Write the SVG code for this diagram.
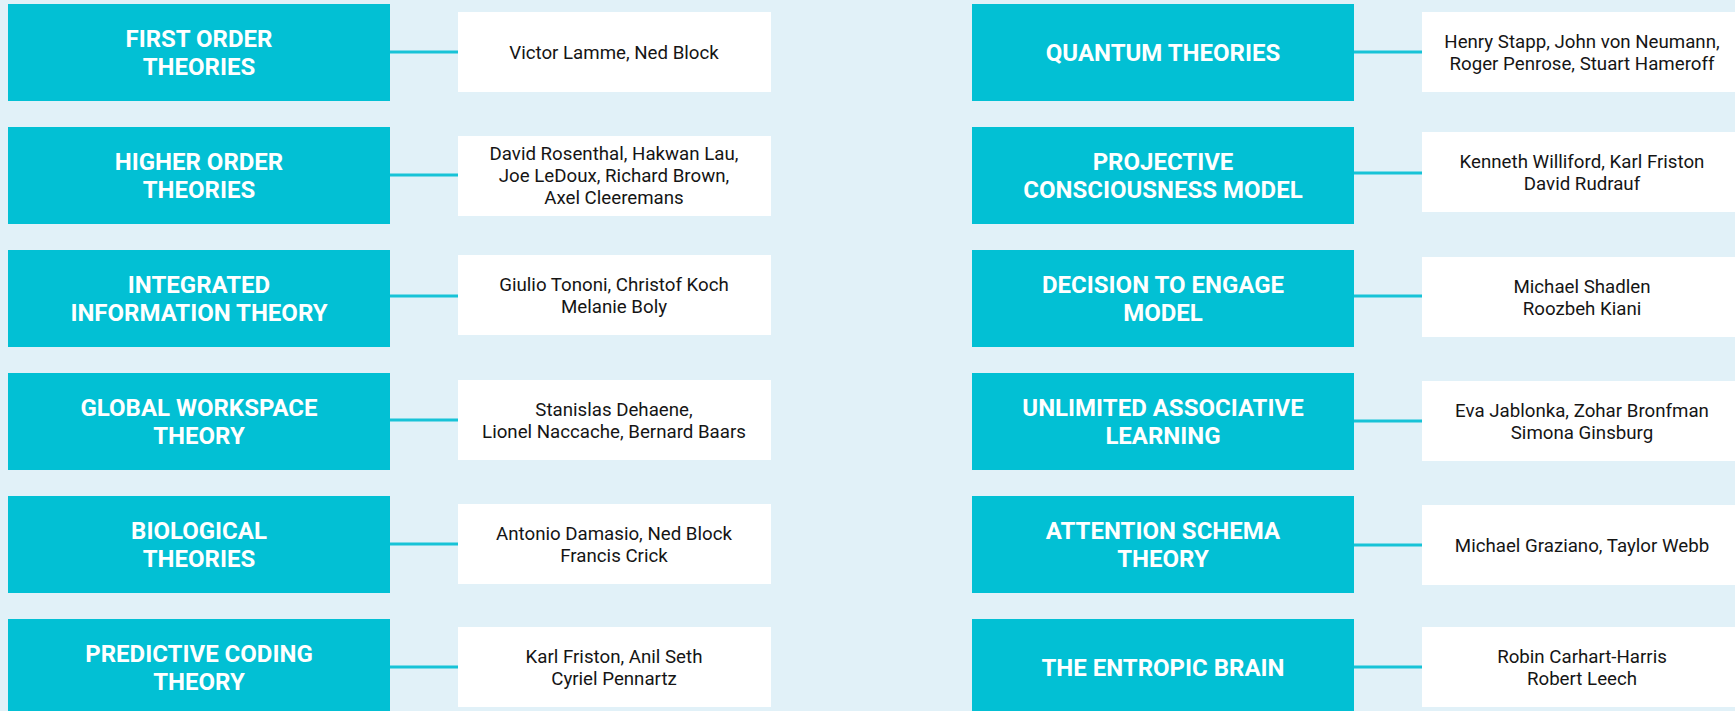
<svg xmlns="http://www.w3.org/2000/svg" width="1735" height="711" viewBox="0 0 1735 711">
<style>
.bg{fill:#E1F1F8}
.th{fill:#02C0D4}
.au{fill:#FFFFFF}
.tt{font-family:Roboto,"Liberation Sans",sans-serif;font-weight:700;font-size:24px;fill:#FFFFFF;text-anchor:middle}
.at{font-family:Roboto,"Liberation Sans",sans-serif;font-weight:400;font-size:18.7px;fill:#151515;text-anchor:middle}
.cn{stroke:#17C3D7;stroke-width:3;fill:none}
</style>
<rect class="bg" x="0" y="0" width="1735" height="711"/>
<g id="connectors">
<line class="cn" x1="390" y1="52" x2="458" y2="52"/>
<line class="cn" x1="390" y1="175" x2="458" y2="175"/>
<line class="cn" x1="390" y1="296" x2="458" y2="296"/>
<line class="cn" x1="390" y1="420" x2="458" y2="420"/>
<line class="cn" x1="390" y1="544" x2="458" y2="544"/>
<line class="cn" x1="390" y1="667" x2="458" y2="667"/>
<line class="cn" x1="1354" y1="52" x2="1422" y2="52"/>
<line class="cn" x1="1354" y1="173" x2="1422" y2="173"/>
<line class="cn" x1="1354" y1="296" x2="1422" y2="296"/>
<line class="cn" x1="1354" y1="421" x2="1422" y2="421"/>
<line class="cn" x1="1354" y1="545" x2="1422" y2="545"/>
<line class="cn" x1="1354" y1="667" x2="1422" y2="667"/>
</g>
<g id="first-order">
<rect class="th" x="8" y="4" width="382" height="97"/>
<text class="tt" x="199" y="47">FIRST ORDER</text>
<text class="tt" x="199" y="75">THEORIES</text>
</g>
<g id="first-order-authors">
<rect class="au" x="458" y="12" width="313" height="80"/>
<text class="at" x="614" y="58.5">Victor Lamme, Ned Block</text>
</g>
<g id="higher-order">
<rect class="th" x="8" y="127" width="382" height="97"/>
<text class="tt" x="199" y="170">HIGHER ORDER</text>
<text class="tt" x="199" y="198">THEORIES</text>
</g>
<g id="higher-order-authors">
<rect class="au" x="458" y="136" width="313" height="80"/>
<text class="at" x="614" y="160">David Rosenthal, Hakwan Lau,</text>
<text class="at" x="614" y="182">Joe LeDoux, Richard Brown,</text>
<text class="at" x="614" y="204">Axel Cleeremans</text>
</g>
<g id="iit">
<rect class="th" x="8" y="250" width="382" height="97"/>
<text class="tt" x="199" y="293">INTEGRATED</text>
<text class="tt" x="199" y="321">INFORMATION THEORY</text>
</g>
<g id="iit-authors">
<rect class="au" x="458" y="255" width="313" height="80"/>
<text class="at" x="614" y="290.5">Giulio Tononi, Christof Koch</text>
<text class="at" x="614" y="312.5">Melanie Boly</text>
</g>
<g id="gwt">
<rect class="th" x="8" y="373" width="382" height="97"/>
<text class="tt" x="199" y="416">GLOBAL WORKSPACE</text>
<text class="tt" x="199" y="444">THEORY</text>
</g>
<g id="gwt-authors">
<rect class="au" x="458" y="380" width="313" height="80"/>
<text class="at" x="614" y="415.5">Stanislas Dehaene,</text>
<text class="at" x="614" y="437.5">Lionel Naccache, Bernard Baars</text>
</g>
<g id="biological">
<rect class="th" x="8" y="496" width="382" height="97"/>
<text class="tt" x="199" y="539">BIOLOGICAL</text>
<text class="tt" x="199" y="567">THEORIES</text>
</g>
<g id="biological-authors">
<rect class="au" x="458" y="504" width="313" height="80"/>
<text class="at" x="614" y="539.5">Antonio Damasio, Ned Block</text>
<text class="at" x="614" y="561.5">Francis Crick</text>
</g>
<g id="predictive">
<rect class="th" x="8" y="619" width="382" height="97"/>
<text class="tt" x="199" y="662">PREDICTIVE CODING</text>
<text class="tt" x="199" y="690">THEORY</text>
</g>
<g id="predictive-authors">
<rect class="au" x="458" y="627" width="313" height="80"/>
<text class="at" x="614" y="662.5">Karl Friston, Anil Seth</text>
<text class="at" x="614" y="684.5">Cyriel Pennartz</text>
</g>
<g id="quantum">
<rect class="th" x="972" y="4" width="382" height="97"/>
<text class="tt" x="1163" y="61">QUANTUM THEORIES</text>
</g>
<g id="quantum-authors">
<rect class="au" x="1422" y="12" width="320" height="80"/>
<text class="at" x="1582" y="47.5">Henry Stapp, John von Neumann,</text>
<text class="at" x="1582" y="69.5">Roger Penrose, Stuart Hameroff</text>
</g>
<g id="projective">
<rect class="th" x="972" y="127" width="382" height="97"/>
<text class="tt" x="1163" y="170">PROJECTIVE</text>
<text class="tt" x="1163" y="198">CONSCIOUSNESS MODEL</text>
</g>
<g id="projective-authors">
<rect class="au" x="1422" y="132" width="320" height="80"/>
<text class="at" x="1582" y="167.5">Kenneth Williford, Karl Friston</text>
<text class="at" x="1582" y="189.5">David Rudrauf</text>
</g>
<g id="decision">
<rect class="th" x="972" y="250" width="382" height="97"/>
<text class="tt" x="1163" y="293">DECISION TO ENGAGE</text>
<text class="tt" x="1163" y="321">MODEL</text>
</g>
<g id="decision-authors">
<rect class="au" x="1422" y="257" width="320" height="80"/>
<text class="at" x="1582" y="292.5">Michael Shadlen</text>
<text class="at" x="1582" y="314.5">Roozbeh Kiani</text>
</g>
<g id="ual">
<rect class="th" x="972" y="373" width="382" height="97"/>
<text class="tt" x="1163" y="416">UNLIMITED ASSOCIATIVE</text>
<text class="tt" x="1163" y="444">LEARNING</text>
</g>
<g id="ual-authors">
<rect class="au" x="1422" y="381" width="320" height="80"/>
<text class="at" x="1582" y="416.5">Eva Jablonka, Zohar Bronfman</text>
<text class="at" x="1582" y="438.5">Simona Ginsburg</text>
</g>
<g id="ast">
<rect class="th" x="972" y="496" width="382" height="97"/>
<text class="tt" x="1163" y="539">ATTENTION SCHEMA</text>
<text class="tt" x="1163" y="567">THEORY</text>
</g>
<g id="ast-authors">
<rect class="au" x="1422" y="505" width="320" height="80"/>
<text class="at" x="1582" y="551.5">Michael Graziano, Taylor Webb</text>
</g>
<g id="entropic">
<rect class="th" x="972" y="619" width="382" height="97"/>
<text class="tt" x="1163" y="676">THE ENTROPIC BRAIN</text>
</g>
<g id="entropic-authors">
<rect class="au" x="1422" y="627" width="320" height="80"/>
<text class="at" x="1582" y="662.5">Robin Carhart-Harris</text>
<text class="at" x="1582" y="684.5">Robert Leech</text>
</g>
</svg>
